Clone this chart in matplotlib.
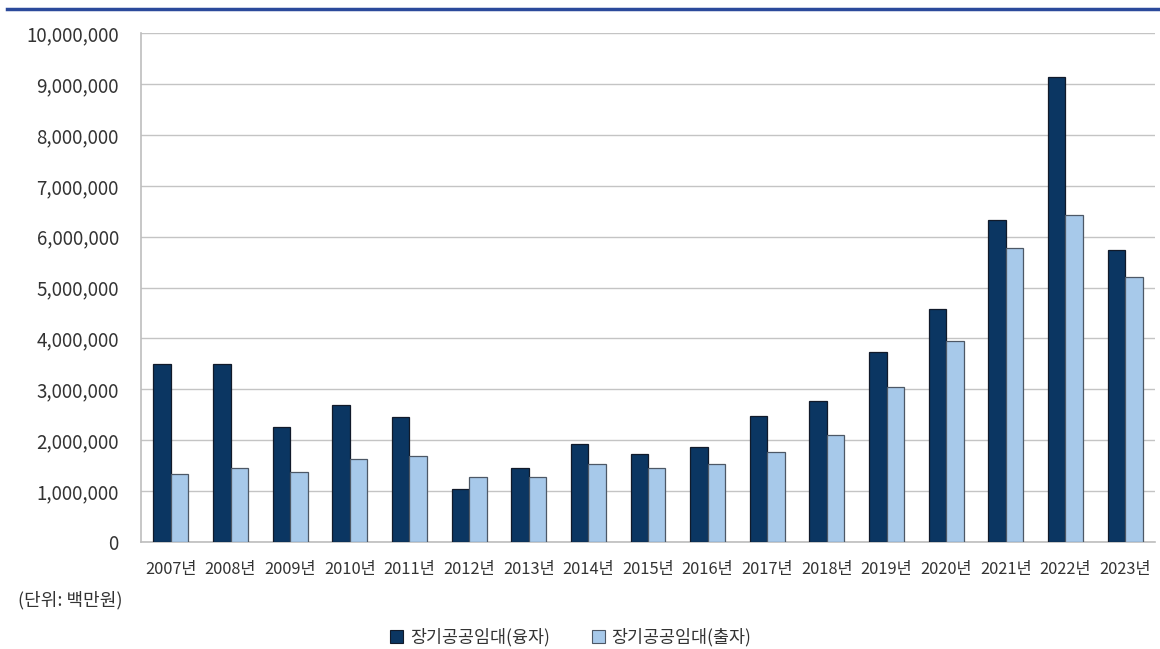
import numpy as np
import matplotlib.pyplot as plt
from matplotlib.patches import Patch
from matplotlib.lines import Line2D

plt.rcParams['font.family'] = ['Noto Sans CJK KR', 'DejaVu Sans']

years = ['2007년', '2008년', '2009년', '2010년', '2011년', '2012년', '2013년', '2014년', '2015년',
         '2016년', '2017년', '2018년', '2019년', '2020년', '2021년', '2022년', '2023년']
loan = [3500000, 3500000, 2250000, 2690000, 2450000, 1035000, 1460000, 1920000, 1720000,
        1860000, 2470000, 2760000, 3730000, 4570000, 6330000, 9150000, 5740000]
invest = [1330000, 1460000, 1370000, 1620000, 1680000, 1270000, 1270000, 1530000, 1460000,
          1530000, 1770000, 2100000, 3050000, 3940000, 5780000, 6430000, 5210000]
series_names = ['장기공공임대(융자)', '장기공공임대(출자)']
dark = '#0b3662'
light = '#a7c9ea'

fig = plt.figure(figsize=(11.6, 6.49), dpi=100)
ax = fig.add_axes([0.1216, 0.1653, 0.8740, 0.7831])

x = np.arange(len(years))
w = 0.293
ax.bar(x - w / 2, loan, w, color=dark, edgecolor='#111a2a', linewidth=0.9, zorder=3)
ax.bar(x + w / 2, invest, w, color=light, edgecolor='#4d5866', linewidth=0.9, zorder=3)

ax.set_xlim(-0.5, len(years) - 0.5)
ax.set_ylim(0, 10000000)
ax.set_yticks(np.arange(0, 10000001, 1000000))
ax.set_yticklabels([f'{v:,}' for v in range(0, 10000001, 1000000)])
ax.set_xticks(x)
ax.set_xticklabels(years)
ax.tick_params(axis='y', length=0, pad=16, labelsize=13.5, labelcolor='#333333')
ax.tick_params(axis='x', length=0, pad=14, labelsize=11.8, labelcolor='#333333')

ax.grid(axis='y', color='#c4c4c4', linewidth=1.0, zorder=0)
for s in ['top', 'right']:
    ax.spines[s].set_visible(False)
ax.spines['left'].set_color('#bdbdbd')
ax.spines['bottom'].set_color('#bdbdbd')
ax.spines['left'].set_linewidth(1.2)
ax.spines['bottom'].set_linewidth(1.2)

# top rule
fig.add_artist(Line2D([0.006, 1.0], [0.9854, 0.9854], color='#2b4a9b', linewidth=2.5,
                      transform=fig.transFigure))

fig.text(0.0155, 0.075, '(단위: 백만원)', fontsize=13, color='#333333', va='center', ha='left')

handles = [Patch(facecolor=dark, edgecolor='#111a2a', linewidth=0.8),
           Patch(facecolor=light, edgecolor='#4d5866', linewidth=0.8)]
fig.legend(handles, series_names, loc='center', bbox_to_anchor=(0.492, 0.018), ncol=2,
           frameon=False, fontsize=12.5, handlelength=0.75, handleheight=0.75,
           handletextpad=0.4, columnspacing=2.4, labelcolor='#333333')

fig.savefig('out.png', dpi=100)
